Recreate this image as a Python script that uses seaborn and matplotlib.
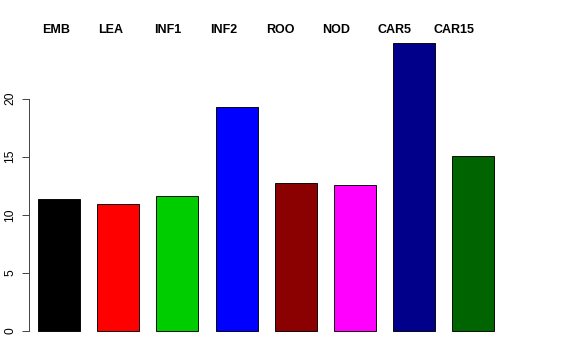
# Bar chart of values per tissue, R-barplot look
import numpy as np
import pandas as pd
import matplotlib
matplotlib.use("Agg")
import matplotlib.pyplot as plt
import seaborn as sns

# data
tissues = ["EMB", "LEA", "INF1", "INF2", "ROO", "NOD", "CAR5", "CAR15"]
values = [11.33, 10.93, 11.59, 19.25, 12.74, 12.56, 24.78, 15.06]
colors = ["#000000", "#FF0000", "#00CD00", "#0000FF",
          "#8B0000", "#FF00FF", "#00008B", "#006400"]
yticks = [0, 5, 10, 15, 20]

df = pd.DataFrame({"tissue": tissues, "value": values})

sns.set_style("white")
plt.rcParams["font.family"] = ["Liberation Sans", "DejaVu Sans"]
plt.rcParams["text.color"] = "black"

fig = plt.figure(figsize=(8, 5), dpi=72)
ax = fig.add_axes([29 / 576, 17.5 / 360, 474.3 / 576, 311 / 360])

sns.barplot(data=df, x="tissue", y="value", hue="tissue", palette=colors,
            legend=False, width=0.71, edgecolor="black", linewidth=0.9,
            saturation=1, ax=ax)

ax.set_xlim(-0.507, 7.507)
ax.set_ylim(-0.99, 25.77)
ax.set_xlabel("")
ax.set_ylabel("")
ax.set_xticks([])
ax.set_yticks(yticks)
ax.set_yticklabels([str(t) for t in yticks], rotation=90, va="center",
                   fontsize=12, color="black")
ax.tick_params(axis="y", left=True, length=7, width=0.9, pad=6, color="#333333")

for side in ["top", "right", "bottom"]:
    ax.spines[side].set_visible(False)
ax.spines["left"].set_bounds(0, 20)
ax.spines["left"].set_color("#333333")
ax.spines["left"].set_linewidth(0.9)

# names across the top, left-aligned at an even pitch
for i, name in enumerate(tissues):
    fig.text((42 + i * 56) / 576, 1 - 30 / 360, name, ha="left", va="center",
             fontsize=12.5, fontweight="bold", color="black")

fig.savefig("out.png", dpi=72)
